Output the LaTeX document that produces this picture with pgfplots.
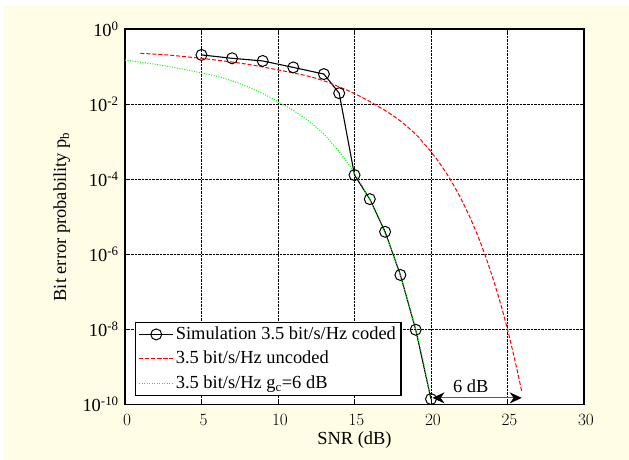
\documentclass[border=0pt]{standalone}
\usepackage{fontspec}
\setmainfont{Liberation Serif}
\usepackage{pgfplots}
\pgfplotsset{compat=1.18}
\usetikzlibrary{arrows.meta}

\definecolor{figbg}{RGB}{255,253,229}
\definecolor{mred}{RGB}{255,0,0}
\definecolor{mgreen}{RGB}{0,255,0}

\begin{document}
\fontsize{18.5}{22}\selectfont
\begin{tikzpicture}
\useasboundingbox (0,0) rectangle (629bp,460bp);
\fill[white] (0,0) rectangle (629bp,460bp);
\fill[figbg] (3bp,0) rectangle (629bp,454bp);
\begin{axis}[
    at={(125bp,55.5bp)}, anchor=south west,
    scale only axis,
    width=459bp, height=375.5bp,
    ymode=log,
    xmin=0, xmax=30, ymin=1e-10, ymax=1,
    xtick={0,5,...,30},
    ytick={1e-10,1e-8,1e-6,1e-4,1e-2,1},
    yticklabels={10\textsuperscript{-10},10\textsuperscript{-8},10\textsuperscript{-6},10\textsuperscript{-4},10\textsuperscript{-2},10\textsuperscript{0}},
    yminorticks=false,
    tick align=inside,
    major tick length=4bp,
    axis line style={line width=1.6bp},
    every tick/.style={black, line width=0.8bp},
    grid=major,
    grid style={densely dotted, black, line width=0.7bp},
    axis background/.style={fill=white},
    xticklabel style={yshift=-4bp, xshift=2bp},
    xlabel={SNR (dB)},
    ylabel={Bit error probability p\textsubscript{b}},
    xlabel style={yshift=7bp},
    legend cell align=left,
    legend style={at={(0.022,0.023)}, anchor=south west, draw,
        line width=1.2bp, fill=white, inner xsep=3bp, inner ysep=2bp,
        row sep=5bp, font=\fontsize{18.5}{22}\selectfont},
    legend image code/.code={%
        \draw[mark repeat=2, mark phase=2, #1] plot coordinates {(0bp,0bp) (17bp,0bp) (34bp,0bp)};},
]
\addplot[draw=black, line width=1.1bp, mark=o, mark size=5.5bp, mark options={line width=1bp}] coordinates {
    (5,0.204) (7,0.166) (9,0.141) (11,0.095) (13,0.063) (14,0.0195)
    (15,1.29e-4) (16,2.95e-5) (17,3.98e-6) (18,2.82e-7) (19,9.8e-9) (20,1.4e-10)
};
\addlegendentry{Simulation 3.5 bit/s/Hz coded}
\addplot[draw=mred, line width=1bp, dash pattern=on 4bp off 2bp, smooth] coordinates {
    (1,0.224) (2,0.214) (3,0.200) (4,0.182) (5,0.166) (6,0.148) (7,0.132)
    (8,0.115) (9,0.0977) (10,0.0813) (11,0.0676) (12,0.0550) (13,0.0417)
    (14,0.0288) (15,0.0191) (16,0.0117) (17,6.76e-3) (18,3.55e-3) (19,1.58e-3)
    (19.5,9.3e-4) (20,5.37e-4) (20.5,2.90e-4) (21,1.46e-4) (21.5,6.70e-5)
    (22,2.82e-5) (22.5,1.06e-5) (23,3.56e-6) (23.5,1.04e-6) (24,2.63e-7)
    (24.5,5.61e-8) (25,1.0e-8) (25.5,1.41e-9) (25.93,2.24e-10)
};
\addlegendentry{3.5 bit/s/Hz uncoded}
\addplot[draw=mgreen, line width=1bp, dash pattern=on 1bp off 1.5bp, smooth] coordinates {
    (0,0.148) (1,0.132) (2,0.115) (3,0.0977) (4,0.0813) (5,0.0676) (6,0.0550)
    (7,0.0417) (8,0.0288) (9,0.0191) (10,0.0117) (11,6.76e-3) (12,3.55e-3)
    (13,1.58e-3) (13.5,9.3e-4) (14,5.37e-4) (14.5,2.90e-4) (15,1.46e-4)
    (15.5,6.70e-5) (16,2.82e-5) (16.5,1.06e-5) (17,3.56e-6) (17.5,1.04e-6)
    (18,2.63e-7) (18.5,5.61e-8) (19,1.0e-8) (19.5,1.41e-9) (19.93,1.6e-10)
};
\addlegendentry{3.5 bit/s/Hz g\textsubscript{c}=6 dB}
\draw[black!65, line width=0.8bp, {Stealth[length=12bp,width=11bp,black]}-{Stealth[length=12bp,width=11bp,black]}]
    (axis cs:20.1,1.5e-10) -- (axis cs:25.93,1.5e-10);
\node[anchor=south, inner sep=1bp] at (axis cs:22.6,1.9e-10) {6 dB};
\end{axis}
\end{tikzpicture}
\end{document}
